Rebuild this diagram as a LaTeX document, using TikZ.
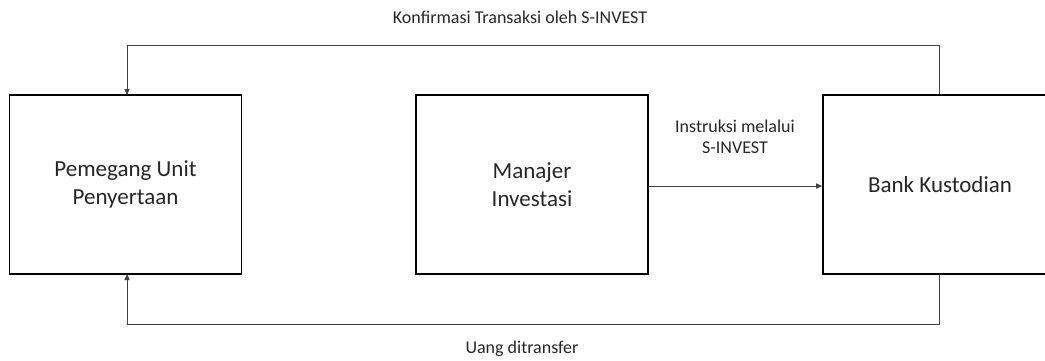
\documentclass[tikz,border=0pt]{standalone}
\usepackage{fontspec}
\setmainfont{Carlito}
\usetikzlibrary{arrows.meta}
\begin{document}
\begin{tikzpicture}[x=1pt,y=-1pt,
  box/.style={draw=black,line width=1.6pt,minimum width=232pt,minimum height=179pt,align=center,inner sep=0pt,font=\fontsize{23}{28}\selectfont,text=black!85},
  conn/.style={draw=black!75,line width=1pt,-{Triangle[length=6pt,width=5pt]}},
  lbl/.style={font=\fontsize{18}{21}\selectfont,text=black!85,align=center,inner sep=0pt}]
\useasboundingbox (0,0) rectangle (1045,360);
\clip (0,0) rectangle (1045,360);
\node[box] (left) at (125.5,184.5) {Pemegang Unit\\Penyertaan};
\node[box] (mid) at (532,184.5) {Manajer\\Investasi};
\node[box,minimum width=234pt] (right) at (940,184.5) {Bank Kustodian};
\coordinate (tl) at (127,45.5);
\coordinate (tr) at (939,45.5);
\coordinate (bl) at (127,324);
\coordinate (br) at (939,324);
\coordinate (leftN) at (127,95);
\coordinate (leftS) at (127,274);
\draw[conn] (right.north -| tr) -- (tr) -- (tl) -- (leftN);
\draw[conn] (right.south -| br) -- (br) -- (bl) -- (leftS);
\draw[conn] (mid.east |- 0,186) -- (right.west |- 0,186);
\node[lbl] (ltop) at (520,17) {Konfirmasi Transaksi oleh S-INVEST};
\node[lbl] (lbot) at (522,349) {Uang ditransfer};
\node[lbl] (lmid) at (735,137) {Instruksi melalui\\S-INVEST};
\end{tikzpicture}
\end{document}
